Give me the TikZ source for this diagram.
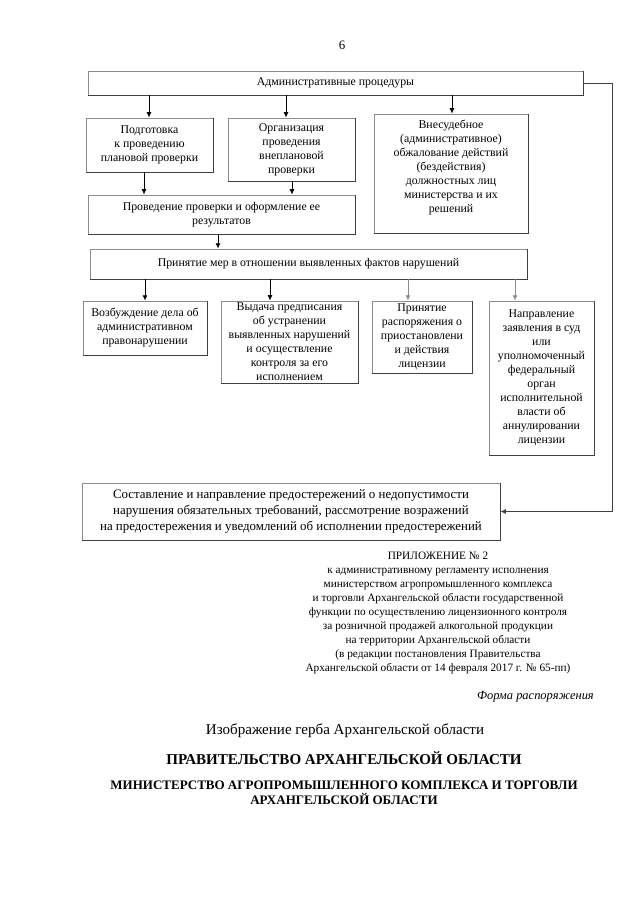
\documentclass[tikz,border=0pt]{standalone}
\usepackage{fontspec}
\setmainfont{Liberation Serif}
\usetikzlibrary{arrows.meta,calc}
\definecolor{boxlight}{gray}{0.55}
\definecolor{boxdark}{gray}{0.25}
\definecolor{arrgray}{gray}{0.55}
\tikzset{
  bx/.style={draw=boxlight, line width=0.7pt, align=center, inner sep=2pt,
    font=\fontsize{11}{13}\selectfont},
  arr/.style={draw=black, line width=0.8pt, -{Latex[length=5pt,width=4.5pt]}},
  garr/.style={draw=arrgray, line width=0.8pt, -{Latex[length=5pt,width=4.5pt]}},
  plain/.style={align=center, inner sep=0pt}
}
\begin{document}
\begin{tikzpicture}[x=0.9302pt,y=-0.9302pt]
\useasboundingbox[fill=white] (0,0) rectangle (640,905);

\node[plain, font=\fontsize{12}{14}\selectfont] (pg) at (342,45) {6};

% row 1
\node[bx, minimum width=495*0.9302pt, minimum height=24*0.9302pt] (top) at (335.5,83) {Административные процедуры};
\node[bx, minimum width=127*0.9302pt, minimum height=54*0.9302pt] (podg) at (149.5,145) {Подготовка\\к проведению\\плановой проверки};
\node[bx, minimum width=127*0.9302pt, minimum height=63*0.9302pt] (org) at (291.5,149.5) {Организация\\проведения\\внеплановой\\проверки};
\node[bx, minimum width=154*0.9302pt, minimum height=119*0.9302pt] (vnes) at (451,173.5) {Внесудебное\\(административное)\\обжалование действий\\(бездействия)\\должностных лиц\\министерства и их\\решений\\\mbox{}};
\node[bx, minimum width=267*0.9302pt, minimum height=39*0.9302pt] (prov) at (221.5,214.5) {Проведение проверки и оформление ее\\результатов};
\node[bx, minimum width=437*0.9302pt, minimum height=30*0.9302pt] (prin) at (308.5,264) {Принятие мер в отношении выявленных фактов нарушений};

% row 4
\node[bx, minimum width=124*0.9302pt, minimum height=54*0.9302pt] (vozb) at (145,328) {Возбуждение дела об\\административном\\правонарушении};
\node[bx, minimum width=137*0.9302pt, minimum height=82*0.9302pt] (vyd) at (289.5,342) {Выдача предписания\\об устранении\\выявленных нарушений\\и осуществление\\контроля за его\\исполнением};
\node[bx, minimum width=100*0.9302pt, minimum height=72*0.9302pt] (prr) at (422,337) {Принятие\\распоряжения о\\приостановлени\\и действия\\лицензии};
\node[bx, minimum width=105*0.9302pt, minimum height=154*0.9302pt] (napr) at (541.5,378) {Направление\\заявления в суд\\или\\уполномоченный\\федеральный\\орган\\исполнительной\\власти об\\аннулировании\\лицензии};

% bottom box
\node[bx, minimum width=418*0.9302pt, minimum height=57*0.9302pt, font=\fontsize{12}{14.8}\selectfont] (sost) at (291,511.5) {Составление и направление предостережений о недопустимости\\нарушения обязательных требований, рассмотрение возражений\\на предостережения и уведомлений об исполнении предостережений};

% darker right/bottom edges
\foreach \n in {top,podg,org,vnes,prov,prin,vozb,vyd,prr,napr,sost}{
  \draw[boxdark, line width=0.8pt] (\n.north east) -- (\n.south east) -- (\n.south west);
}

% arrows
\draw[arr] (top.south -| 149,0) -- (podg.north -| 149,0);
\draw[arr] (top.south -| 286,0) -- (org.north -| 286,0);
\draw[arr] (top.south -| 452,0) -- (vnes.north -| 452,0);
\draw[arr] (podg.south -| 144,0) -- (prov.north -| 144,0);
\draw[arr] (org.south -| 292,0) -- (prov.north -| 292,0);
\draw[arr] (prov.south -| 218,0) -- (prin.north -| 218,0);
\draw[arr] (prin.south -| 145,0) -- (vozb.north -| 145,0);
\draw[arr] (prin.south -| 270,0) -- (vyd.north -| 270,0);
\draw[garr] (prin.south -| 408,0) -- (prr.north -| 408,0);
\draw[garr] (prin.south -| 515,0) -- (napr.north -| 515,0);

% feedback line
\coordinate (fb1) at (612,83);
\coordinate (fb2) at (612,511.5);
\draw[draw=boxdark, line width=0.8pt, -{Latex[length=5pt,width=4.5pt]}] (top.east) -- (fb1) -- (fb2) -- (sost.east);

% appendix text
\node[plain, font=\fontsize{10.5}{13}\selectfont, anchor=north] (app) at (438,552) {ПРИЛОЖЕНИЕ № 2\\
к административному регламенту исполнения\\
министерством агропромышленного комплекса\\
и торговли Архангельской области государственной\\
функции по осуществлению лицензионного контроля\\
за розничной продажей алкогольной продукции\\
на территории Архангельской области\\
(в редакции постановления Правительства\\
Архангельской области от 14 февраля 2017 г. № 65-пп)};

\node[plain, font=\fontsize{11.6}{13}\itshape, anchor=east] (forma) at (594,697) {Форма распоряжения};

\node[plain, font=\fontsize{14}{16}\selectfont] (gerb) at (345,731) {Изображение герба Архангельской области};
\node[plain, font=\fontsize{14}{16}\bfseries] (prav) at (344,758) {ПРАВИТЕЛЬСТВО АРХАНГЕЛЬСКОЙ ОБЛАСТИ};
\node[plain, font=\fontsize{12.1}{14}\bfseries] (min) at (344,793) {МИНИСТЕРСТВО АГРОПРОМЫШЛЕННОГО КОМПЛЕКСА И ТОРГОВЛИ\\АРХАНГЕЛЬСКОЙ ОБЛАСТИ};
\end{tikzpicture}
\end{document}
